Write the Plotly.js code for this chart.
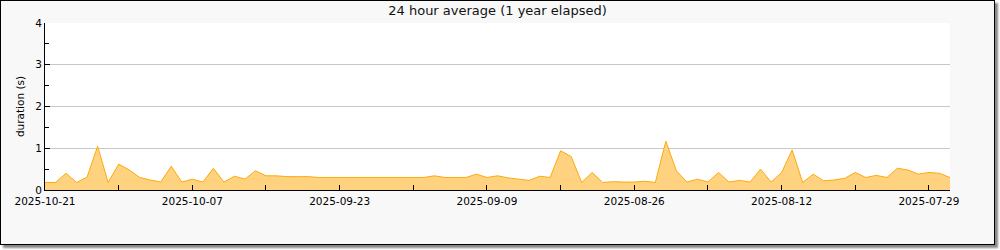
<!DOCTYPE html>
<html>
<head>
<meta charset="utf-8">
<script src="https://cdn.plot.ly/plotly-3.0.1.min.js"></script>
<style>
  html, body { margin: 0; padding: 0; background: #ffffff; }
  #frame { position: absolute; left: 0; top: 0; width: 993px; height: 243px;
           border: 1px solid #000; background: #f8f8f8; box-shadow: 3px 3px 2px #888; }
  #chart { position: absolute; left: 0; top: 0; width: 1000px; height: 250px; }
</style>
</head>
<body>
<div id="frame"></div>
<div id="chart"></div>
<script>
// Daily 24-hour average durations, newest first (2025-10-21 back to 2025-07-27)
const startDate = '2025-10-21';
const durations = [
  0.18, 0.18, 0.40, 0.18, 0.31, 1.05, 0.18, 0.62, 0.48, 0.30,
  0.24, 0.19, 0.57, 0.19, 0.26, 0.19, 0.52, 0.19, 0.33, 0.26,
  0.46, 0.34, 0.34, 0.32, 0.32, 0.32, 0.30, 0.30, 0.30, 0.30,
  0.30, 0.30, 0.30, 0.30, 0.30, 0.30, 0.30, 0.34, 0.30, 0.30,
  0.30, 0.38, 0.30, 0.34, 0.29, 0.26, 0.23, 0.33, 0.30, 0.94,
  0.80, 0.18, 0.42, 0.18, 0.20, 0.19, 0.19, 0.21, 0.18, 1.17,
  0.46, 0.19, 0.26, 0.19, 0.42, 0.19, 0.23, 0.19, 0.50, 0.19,
  0.42, 0.96, 0.18, 0.38, 0.22, 0.24, 0.28, 0.42, 0.30, 0.35,
  0.30, 0.52, 0.48, 0.38, 0.42, 0.40, 0.30
];
const titleText = '24 hour average (1 year elapsed)';
const yTitle = 'duration (s)';
const xRange = ['2025-10-21', '2025-07-27'];
const yRange = [0, 4];

const DAY = 86400000;
const t0 = Date.UTC(2025, 9, 21);
const dates = durations.map((_, i) => {
  const d = new Date(t0 - i * DAY);
  return d.toISOString().slice(0, 10);
});

const trace = {
  x: dates,
  y: durations,
  type: 'scatter',
  mode: 'lines',
  fill: 'tozeroy',
  fillcolor: '#ffd27f',
  line: { color: '#fcaa0c', width: 1 },
  hoverinfo: 'x+y'
};

const font = "'DejaVu Sans', sans-serif";
const layout = {
  width: 1000, height: 250,
  margin: { l: 45, r: 50, t: 23, b: 60 },
  paper_bgcolor: 'rgba(0,0,0,0)',
  plot_bgcolor: '#ffffff',
  showlegend: false,
  font: { family: font, color: '#000', size: 10.5 },
  title: { text: titleText, font: { family: font, size: 13, color: '#111' },
           x: 0.4975, xanchor: 'center', y: 0.96, yanchor: 'middle' },
  xaxis: {
    type: 'date', range: xRange,
    tick0: '2025-07-29', dtick: 14 * DAY, tickformat: '%Y-%m-%d',
    ticks: 'inside', ticklen: 5, tickcolor: '#000', tickwidth: 1,
    ticklabelstandoff: 1,
    minor: { dtick: 7 * DAY, tick0: '2025-07-29', ticks: 'inside', ticklen: 5, tickcolor: '#000' },
    showline: true, linecolor: '#000', linewidth: 1,
    showgrid: false, zeroline: false,
    tickfont: { family: font, size: 10.5, color: '#000' },
    fixedrange: true
  },
  yaxis: {
    range: yRange, dtick: 1,
    ticks: 'inside', ticklen: 5, tickcolor: '#000', tickwidth: 1,
    minor: { dtick: 0.5, ticks: 'inside', ticklen: 4, tickcolor: '#000', showgrid: false },
    showline: true, linecolor: '#000', linewidth: 1,
    showgrid: true, gridcolor: '#c8c8c8', gridwidth: 1,
    zeroline: false,
    tickfont: { family: font, size: 10.5, color: '#000' },
    title: { text: yTitle, font: { family: font, size: 10.5, color: '#000' }, standoff: 8 },
    fixedrange: true
  }
};

Plotly.newPlot('chart', [trace], layout, { displayModeBar: false, staticPlot: true });
</script>
</body>
</html>
